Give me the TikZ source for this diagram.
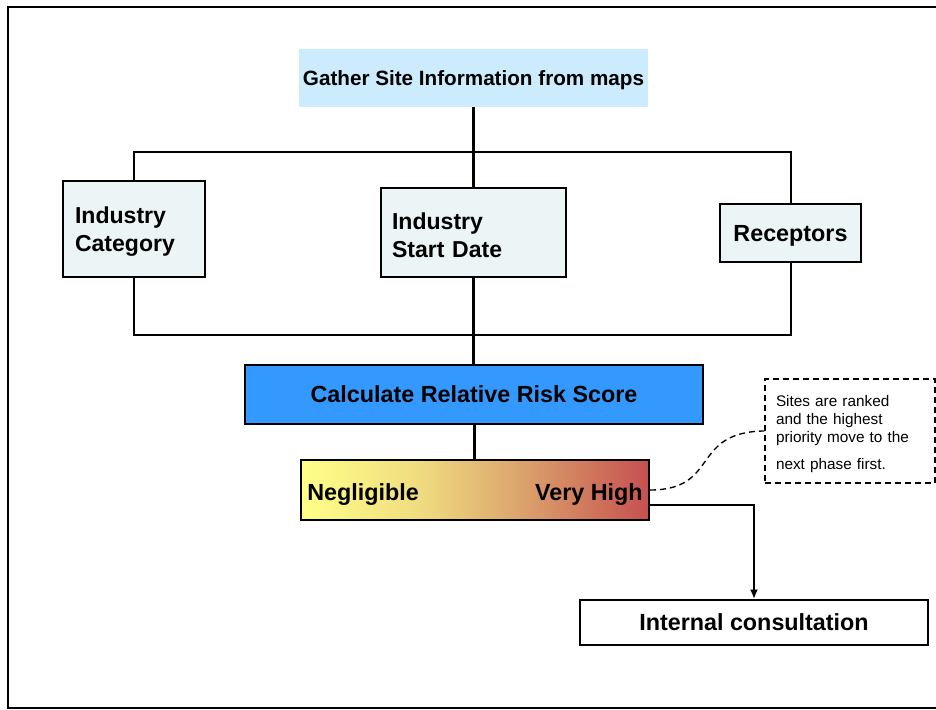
\documentclass[tikz,border=0pt]{standalone}
\usepackage{fontspec}
\setmainfont{Liberation Sans}
\usetikzlibrary{arrows.meta,calc,positioning}

\definecolor{gatherblue}{RGB}{204,235,252}
\definecolor{boxgrey}{RGB}{236,245,246}
\definecolor{calcblue}{RGB}{51,153,255}
\definecolor{riskA}{RGB}{255,255,136}
\definecolor{riskB}{RGB}{240,220,128}
\definecolor{riskC}{RGB}{221,170,110}
\definecolor{riskD}{RGB}{198,80,80}
\pgfdeclarehorizontalshading{riskscale}{100bp}{color(0bp)=(riskA); color(25bp)=(riskA);
    color(42bp)=(riskB); color(55bp)=(riskC); color(75bp)=(riskD); color(100bp)=(riskD)}

\begin{document}
\begin{tikzpicture}[x=0.75pt,y=-0.75pt,
    box/.style={draw,line width=1.5pt,fill=boxgrey,inner sep=0pt,
        font=\bfseries\fontsize{17.3}{21}\selectfont},
    twoline/.style={text width=#1,align=left,execute at begin node={\rule{0pt}{17pt}}},
    big/.style={font=\bfseries\fontsize{17.5}{21}\selectfont,text depth=0pt},
    spine/.style={line width=2.25pt},
    bracket/.style={line width=1.5pt}]
    \useasboundingbox (0,0) rectangle (936,710);
    % Frame
    \draw[line width=1.5pt] (940,7) -- (8,7) -- (8,708) -- (940,708);
    % Top box
    \node[fill=gatherblue,minimum width=260.25pt,minimum height=43.5pt,text depth=0pt,
        font=\bfseries\fontsize{15.5}{18}\selectfont] (gather) at (473.5,78)
        {Gather Site Information from maps};
    % Inputs
    \node[box,twoline=88.5pt,minimum width=106.5pt,minimum height=72pt]
        (cat) at (134,229) {Industry\\Category};
    \node[box,twoline=122.25pt,minimum width=138.75pt,minimum height=66.75pt]
        (date) at (473.5,232.5) {Industry\\Start Date};
    \node[box,big,minimum width=105.75pt,minimum height=43.5pt]
        (rec) at (790.5,233) {Receptors};
    \coordinate (top) at (473.5,152);
    \coordinate (bot) at (473.5,335);
    \draw[bracket] (cat.north) |- (top) -| (rec.north);
    \draw[bracket] (cat.south) |- (bot) -| (rec.south);
    % Score
    \node[box,big,fill=calcblue,minimum width=343.5pt,minimum height=44.25pt]
        (calc) at (474,394.5) {Calculate Relative Risk Score};
    \node[draw,line width=1.5pt,shading=riskscale,minimum width=261pt,minimum height=45pt]
        (scale) at (475,490) {};
    \node[big,anchor=west,inner sep=0pt] (neg) at ([xshift=5.25pt,yshift=-1.5pt]scale.west) {Negligible};
    \node[big,anchor=east,inner sep=0pt] (vhigh) at ([xshift=-5.25pt,yshift=-1.5pt]scale.east) {Very High};
    \draw[spine] (gather.south) -- (date.north);
    \draw[spine] (date.south) -- (date.south |- calc.north);
    \draw[spine] (calc.south) -- (calc.south |- scale.north);
    % Note
    \node[draw,dashed,dash pattern=on 4.5pt off 3pt,line width=1pt,minimum width=127.5pt,
        minimum height=78pt,text width=111pt,align=left,inner sep=0pt,
        execute at begin node={\rule{0pt}{13pt}},
        font=\fontsize{11.5}{13.5}\selectfont] (note) at (850,431)
        {Sites are ranked\\and the highest\\priority move to the\\[6.75pt]next phase first.};
    \draw[dashed,dash pattern=on 4.5pt off 3pt,line width=1pt]
        (scale.east) .. controls (720,490) and (690,432) .. (note.west);
    % Output
    \node[draw,line width=1.5pt,fill=white,big,minimum width=261pt,minimum height=33.75pt]
        (consult) at (754,622.5) {Internal consultation};
    \draw[line width=1.5pt,-{Latex[length=7pt,width=6pt]}]
        ($(scale.east)+(0,15)$) -| (consult.north);
\end{tikzpicture}
\end{document}
